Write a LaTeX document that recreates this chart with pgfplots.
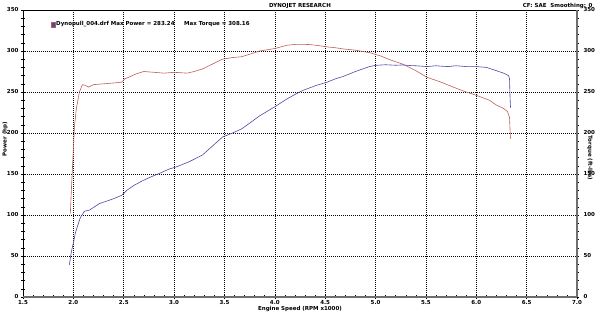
\documentclass[border=0pt]{standalone}
\usepackage{pgfplots}
\pgfplotsset{compat=1.18}
\usepackage{fontspec}
\setmainfont{DejaVu Sans}
\newcommand\lbl{\fontsize{5.5}{6}\selectfont\bfseries}
\definecolor{tq}{RGB}{190,95,85}
\definecolor{hp}{RGB}{75,75,165}
\definecolor{frm}{RGB}{110,110,110}
\begin{document}
\begin{tikzpicture}[x=1pt,y=1pt]
\path[use as bounding box] (-23,-15) rectangle (577,297);
\begin{axis}[at={(0,0)}, anchor=south west, scale only axis, width=554pt, height=287pt,
 xmin=1.5, xmax=7.0, ymin=0, ymax=350,
 xtick={1.5,2.0,2.5,3.0,3.5,4.0,4.5,5.0,5.5,6.0,6.5,7.0},
 ytick={0,50,100,150,200,250,300,350},
 minor x tick num=4, minor y tick num=4,
 xtick pos=bottom, ytick pos=left, tick align=center,
 major tick length=4pt, minor tick length=3pt,
 tick style={black, line width=0.5pt},
 grid=major, major grid style={black, dash pattern=on 0.6pt off 1.4pt, line width=0.5pt},
 axis line style={black, line width=0.6pt},
 /pgf/number format/assume math mode=true,
 tick label style={font=\lbl},
 xticklabel style={/pgf/number format/.cd, fixed, fixed zerofill, precision=1},
 yticklabel style={/pgf/number format/.cd, fixed, precision=0},
 xticklabel shift=-2.5pt, yticklabel shift=-1pt,
]
\addplot[tq, line width=0.6pt] coordinates {
(1.97,102) (1.98,130) (1.99,155) (2.00,180) (2.01,207) (2.03,230) (2.06,250) (2.09,259)
(2.12,258) (2.15,256) (2.20,259) (2.30,260) (2.40,261) (2.48,262) (2.51,266) (2.55,268)
(2.62,272) (2.70,275) (2.80,274) (2.90,273) (3.00,274) (3.13,273) (3.20,275) (3.28,278)
(3.38,284) (3.48,290) (3.58,292) (3.67,293) (3.75,296) (3.85,300) (4.00,303) (4.12,307)
(4.20,308) (4.28,308.16) (4.35,307.8) (4.41,307) (4.52,305) (4.60,304) (4.68,302.5)
(4.80,301) (4.94,298) (5.05,294) (5.15,289) (5.27,284) (5.40,276) (5.51,268) (5.65,262)
(5.77,256) (5.90,250) (6.00,246) (6.13,240) (6.20,234) (6.27,230) (6.31,226) (6.33,219)
(6.335,205) (6.34,193)
};
\addplot[hp, line width=0.6pt] coordinates {
(1.96,39) (1.98,55) (2.00,66) (2.02,78) (2.04,86) (2.07,97) (2.11,104.5) (2.16,106)
(2.26,114) (2.38,119) (2.48,124) (2.53,130) (2.60,136) (2.69,142) (2.78,147) (2.86,151)
(2.95,156) (3.03,159) (3.15,165) (3.28,173) (3.38,184) (3.48,195) (3.58,200) (3.67,205)
(3.75,212) (3.85,221) (4.00,232) (4.12,241.5) (4.20,247) (4.28,252) (4.41,258) (4.52,262)
(4.60,266) (4.68,269) (4.80,275) (4.94,281) (5.00,282.5) (5.10,283.24) (5.20,282.6)
(5.27,283) (5.35,282.2) (5.40,282) (5.51,281) (5.60,282) (5.65,281.5) (5.72,281)
(5.80,282) (5.90,281) (6.00,281) (6.10,280) (6.20,276) (6.27,273) (6.32,270) (6.33,266)
(6.335,245) (6.34,231)
};
\end{axis}
\begin{axis}[at={(0,0)}, anchor=south west, scale only axis, width=554pt, height=287pt,
 xmin=1.5, xmax=7.0, ymin=0, ymax=350,
 hide x axis, axis y line*=right,
 ytick={0,50,100,150,200,250,300,350}, minor y tick num=4,
 tick align=center, major tick length=4pt, minor tick length=3pt,
 tick style={black, line width=0.5pt},
 axis line style={frm, line width=1.6pt},
 /pgf/number format/assume math mode=true,
 tick label style={font=\lbl},
 yticklabel style={/pgf/number format/.cd, fixed, precision=0},
 yticklabel shift=1pt,
]
\addplot[draw=none] coordinates {(2,0)};
\end{axis}
\draw[frm, line width=1.6pt] (0,0) -- (554,0);
\node[font=\lbl] at (277,291) {DYNOJET RESEARCH};
\node[font=\lbl, anchor=east] at (573,291) {CF: SAE\ \ Smoothing: 0};
\fill[hp] (28,270) rectangle (32,275);
\draw[tq, line width=0.4pt] (28,270) rectangle (32,275);
\node[font=\lbl, anchor=west, inner sep=0pt] at (33,272.5) {Dynopull\_004.drf Max Power = 283.24};
\node[font=\lbl, anchor=west, inner sep=0pt] at (161,272.5) {Max Torque = 308.16};
\node[font=\lbl, rotate=90] at (-18,158) {Power (hp)};
\node[font=\lbl, rotate=-90] at (567,139) {Torque (ft-lbs)};
\node[font=\lbl] at (277,-12) {Engine Speed (RPM x1000)};
\end{tikzpicture}
\end{document}
